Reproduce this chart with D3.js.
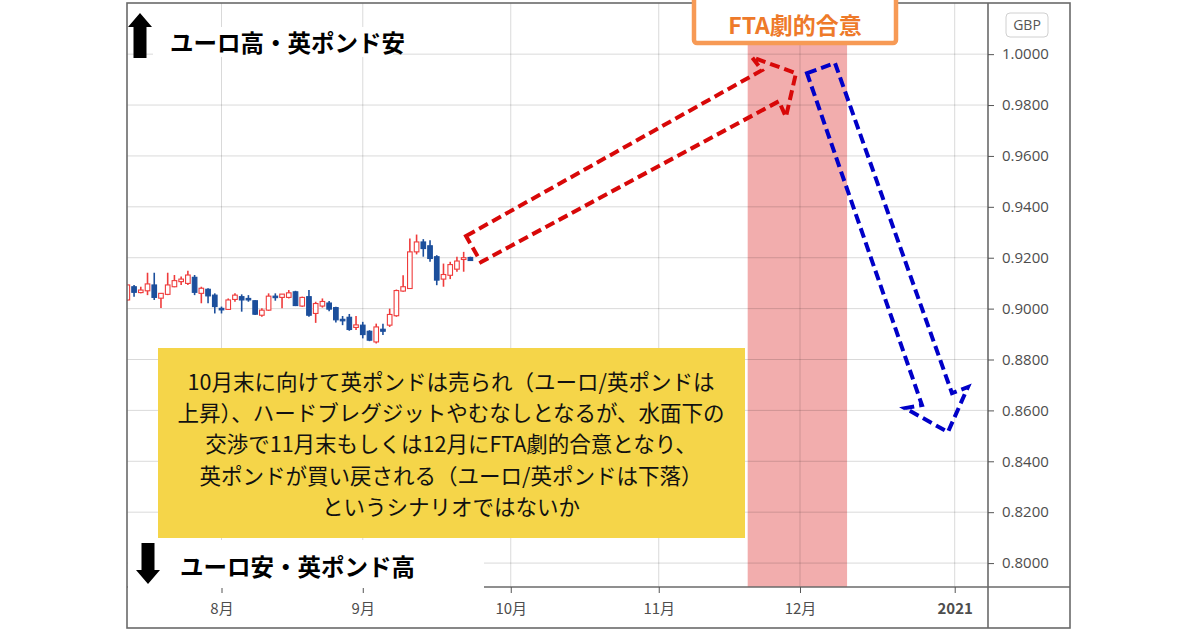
<!DOCTYPE html>
<html><head><meta charset="utf-8">
<script src="https://cdn.jsdelivr.net/npm/d3@7"></script>
<style>body{margin:0;background:#fff}svg{display:block}</style>
</head><body><svg id="c" width="1200" height="630"></svg>
<script>
// ---------- data ----------
const dates = ["2020-07-14","2020-07-15","2020-07-16","2020-07-17","2020-07-20","2020-07-21","2020-07-22","2020-07-23","2020-07-24","2020-07-27","2020-07-28","2020-07-29","2020-07-30","2020-07-31",
"2020-08-03","2020-08-04","2020-08-05","2020-08-06","2020-08-07","2020-08-10","2020-08-11","2020-08-12","2020-08-13","2020-08-14","2020-08-17","2020-08-18","2020-08-19","2020-08-20","2020-08-21","2020-08-24","2020-08-25","2020-08-26","2020-08-27","2020-08-28","2020-08-31",
"2020-09-01","2020-09-02","2020-09-03","2020-09-04","2020-09-07","2020-09-08","2020-09-09","2020-09-10","2020-09-11","2020-09-14","2020-09-15","2020-09-16","2020-09-17","2020-09-18","2020-09-21","2020-09-22","2020-09-23"];
const open  = [0.9034,0.9086,0.9063,0.9070,0.9093,0.9041,0.9056,0.9086,0.9106,0.9099,0.9123,0.9060,0.9076,0.9053,
0.9001,0.8997,0.9036,0.9047,0.9040,0.9031,0.8974,0.8994,0.9049,0.9044,0.9044,0.9066,0.9010,0.9047,0.8981,0.9010,0.9022,0.9004,0.8958,0.8966,0.8926,
0.8935,0.8911,0.8869,0.8919,0.8935,0.8972,0.9069,0.9079,0.9223,0.9262,0.9247,0.9204,0.9116,0.9131,0.9155,0.9193,0.9201];
const high  = [0.9095,0.9093,0.9086,0.9141,0.9141,0.9061,0.9141,0.9132,0.9126,0.9149,0.9132,0.9086,0.9080,0.9060,
0.9008,0.9040,0.9060,0.9056,0.9053,0.9033,0.9001,0.9060,0.9060,0.9057,0.9073,0.9070,0.9047,0.9073,0.9027,0.9040,0.9030,0.9007,0.8971,0.8979,0.8971,
0.8948,0.8915,0.8941,0.8941,0.9000,0.9075,0.9131,0.9276,0.9291,0.9273,0.9269,0.9210,0.9177,0.9184,0.9204,0.9223,0.9204];
const low   = [0.9030,0.9047,0.9060,0.9053,0.9034,0.9002,0.9053,0.9084,0.9093,0.9093,0.9053,0.9021,0.9021,0.8981,
0.8981,0.8995,0.9027,0.8988,0.9027,0.8975,0.8968,0.8991,0.9031,0.9001,0.9040,0.9010,0.9007,0.8968,0.8944,0.9004,0.8990,0.8945,0.8935,0.8913,0.8916,
0.8883,0.8872,0.8863,0.8896,0.8928,0.8968,0.9066,0.9077,0.9213,0.9204,0.9184,0.9092,0.9086,0.9116,0.9145,0.9145,0.9187];
const close = [0.9093,0.9064,0.9073,0.9097,0.9044,0.9060,0.9093,0.9110,0.9116,0.9132,0.9064,0.9080,0.9050,0.9008,
0.8995,0.9034,0.9053,0.9034,0.9036,0.8978,0.8994,0.9049,0.9047,0.9057,0.9062,0.9012,0.9044,0.8974,0.9020,0.9028,0.8998,0.8956,0.8952,0.8918,0.8936,
0.8898,0.8876,0.8928,0.8911,0.8977,0.9071,0.9086,0.9223,0.9262,0.9236,0.9197,0.9112,0.9134,0.9173,0.9187,0.9200,0.9189];

const priceTicks = [0.80,0.82,0.84,0.86,0.88,0.90,0.92,0.94,0.96,0.98,1.00];
const monthTickDates = ["2020-08-03","2020-09-01","2020-10-01","2020-11-02","2020-12-01","2021-01-01"];
const monthTickLabels = ["8月","9月","10月","11月","12月","2021"];
const bandDates = ["2020-11-19","2020-12-10"];
const bandLabel = "FTA劇的合意";
const currencyLabel = "GBP";
const topLabel = "ユーロ高・英ポンド安";
const bottomLabel = "ユーロ安・英ポンド高";
const noteLines = [
 "10月末に向けて英ポンドは売られ（ユーロ/英ポンドは",
 "上昇）、ハードブレグジットやむなしとなるが、水面下の",
 "交渉で11月末もしくは12月にFTA劇的合意となり、",
 "英ポンドが買い戻される（ユーロ/英ポンドは下落）",
 "というシナリオではないか"
];
// scenario arrows: [trading-day index from 2020-08-03, price]
const bullArrow = [[36.35,0.9285],[80.35,0.9937],[78.86,0.9988],[85.40,0.9925],[83.91,0.9753],[82.87,0.9815],[38.58,0.9183]];
const bearArrow = [[87.04,0.9925],[91.20,0.9965],[108.59,0.8668],[110.97,0.8692],[108.0,0.8515],[101.60,0.8609],[104.13,0.8621]];

// ---------- helpers ----------
const base = Date.UTC(2020,7,3);
function biz(s){
  const [yy,mm,dd]=s.split("-").map(Number);
  const t=Date.UTC(yy,mm-1,dd);
  let n=0, cur=base; const step=t>=base?1:-1;
  while(cur!==t){ cur+=step*864e5; const wd=new Date(cur).getUTCDay(); if(wd!==0&&wd!==6) n+=step; }
  return n;
}

const L=127, R=988, T=3, B=587, FR=1070, FB=628;
const x = d3.scaleLinear().domain([-14.05,113.95]).range([L,R]);
const y = d3.scaleLinear().domain([0.7906,1.0201]).range([B,T]);

const svg = d3.select("#c");
svg.append("rect").attr("width",1200).attr("height",630).attr("fill","#fff");
svg.append("defs").append("clipPath").attr("id","plot").append("rect")
  .attr("x",L).attr("y",T).attr("width",R-L).attr("height",B-T);

const RED="#ef3b3b", BLUE="#1c4f9c", GRID="rgba(0,0,0,0.15)";

// band
const b0=x(biz(bandDates[0]))+1.5, b1=x(biz(bandDates[1]));
svg.append("rect").attr("x",b0).attr("y",45).attr("width",b1-b0).attr("height",B-45)
  .attr("fill","#f2adad");

// grid
const mIdx = monthTickDates.map(biz);
svg.append("g").selectAll("line").data(priceTicks).join("line")
  .attr("x1",L).attr("x2",R).attr("y1",d=>y(d)).attr("y2",d=>y(d))
  .attr("stroke",GRID).attr("stroke-width",1);
svg.append("g").selectAll("line").data(mIdx).join("line")
  .attr("x1",d=>x(d)).attr("x2",d=>x(d)).attr("y1",T).attr("y2",B)
  .attr("stroke",GRID).attr("stroke-width",1);

// candles
const candles = dates.map((d,i)=>({i:biz(d),o:open[i],h:high[i],l:low[i],c:close[i]}));
const cg = svg.append("g").attr("clip-path","url(#plot)");
const bw = 4.6;
const g = cg.selectAll("g").data(candles).join("g");
g.append("line").attr("x1",d=>x(d.i)).attr("x2",d=>x(d.i))
  .attr("y1",d=>y(d.h)).attr("y2",d=>y(d.l))
  .attr("stroke",d=>d.c>=d.o?RED:BLUE).attr("stroke-width",1.6);
g.append("rect")
  .attr("x",d=>x(d.i)-bw/2).attr("width",bw)
  .attr("y",d=>y(Math.max(d.o,d.c)))
  .attr("height",d=>Math.max(1.5,Math.abs(y(d.o)-y(d.c))))
  .attr("fill",d=>d.c>=d.o?"#fff":BLUE)
  .attr("stroke",d=>d.c>=d.o?RED:BLUE).attr("stroke-width",1.1);

// frame and axes
const FRAME="#6a6a6a";
svg.append("rect").attr("x",L).attr("y",T).attr("width",FR-L).attr("height",FB-T)
  .attr("fill","none").attr("stroke",FRAME).attr("stroke-width",1.6);
svg.append("line").attr("x1",R).attr("x2",R).attr("y1",T).attr("y2",FB).attr("stroke",FRAME).attr("stroke-width",1.6);
svg.append("line").attr("x1",L).attr("x2",FR).attr("y1",B).attr("y2",B).attr("stroke",FRAME).attr("stroke-width",1.6);

const yAxis = svg.append("g").attr("transform",`translate(${R},0)`)
  .call(d3.axisRight(y).tickValues(priceTicks).tickFormat(d3.format(".4f")).tickSize(6).tickPadding(8));
yAxis.select(".domain").remove();
yAxis.selectAll("line").attr("stroke","#555");
yAxis.selectAll("text").attr("font-family","'Open Sans',sans-serif").attr("font-size",15).attr("fill","#4d4d4d");

const xAxis = svg.append("g").attr("transform",`translate(0,${B})`)
  .call(d3.axisBottom(x).tickValues(mIdx).tickFormat((d,i)=>monthTickLabels[i]).tickSize(6).tickPadding(10));
xAxis.select(".domain").remove();
xAxis.selectAll("line").attr("stroke","#555");
xAxis.selectAll("text").attr("font-family","'Noto Sans CJK JP','Open Sans',sans-serif").attr("font-size",15).attr("fill","#4d4d4d")
  .attr("font-weight",(d,i)=>monthTickLabels[i]==="2021"?700:400);

// GBP badge
svg.append("rect").attr("x",1006).attr("y",13).attr("width",42).attr("height",24).attr("rx",4)
  .attr("fill","#fff").attr("stroke","#d0d0d0");
svg.append("text").attr("x",1027).attr("y",30).attr("text-anchor","middle")
  .attr("font-family","'Open Sans',sans-serif").attr("font-size",14).attr("fill","#555").text(currencyLabel);

// top / bottom labels
const JP="'Noto Sans CJK JP',sans-serif";
svg.append("rect").attr("x",153).attr("y",27).attr("width",240).attr("height",30).attr("fill","#fff");
svg.append("path").attr("d","M140,13 L152,27 L146.5,27 L146.5,58 L133.5,58 L133.5,27 L128,27 Z").attr("fill","#000");
svg.append("text").attr("x",170).attr("y",42).attr("dominant-baseline","central")
  .attr("font-family",JP).attr("font-weight",700).attr("font-size",23.5).attr("fill","#000").text(topLabel);

svg.append("rect").attr("x",L+1).attr("y",540).attr("width",356).attr("height",48).attr("fill","#fff");
svg.append("path").attr("d","M148,584 L160,570 L154.5,570 L154.5,543 L141.5,543 L141.5,570 L136,570 Z").attr("fill","#000");
svg.append("text").attr("x",180).attr("y",566).attr("dominant-baseline","central")
  .attr("font-family",JP).attr("font-weight",700).attr("font-size",23.5).attr("fill","#000").text(bottomLabel);

// FTA label box
svg.append("rect").attr("x",694).attr("y",-4).attr("width",202).attr("height",47).attr("rx",3)
  .attr("fill","#fff").attr("stroke","#f79a55").attr("stroke-width",4.5);
svg.append("text").attr("x",795).attr("y",24).attr("text-anchor","middle").attr("dominant-baseline","central")
  .attr("font-family",JP).attr("font-weight",700).attr("font-size",23).attr("fill","#ee7a2a").text(bandLabel);

// note box
svg.append("rect").attr("x",158).attr("y",348).attr("width",587).attr("height",190).attr("fill","#f5d549");
svg.append("g").selectAll("text").data(noteLines).join("text")
  .attr("x",451).attr("y",(d,i)=>380+i*31.4).attr("text-anchor","middle").attr("dominant-baseline","central")
  .attr("font-family",JP).attr("font-weight",400).attr("font-size",21.5).attr("fill","#111").text(d=>d);

// scenario arrows
const line = d3.line().x(d=>x(d[0])).y(d=>y(d[1]));
svg.append("path").attr("d",line(bullArrow)+"Z").attr("fill","none").attr("stroke","#d80808")
  .attr("stroke-width",4).attr("stroke-dasharray","10,5").attr("stroke-linejoin","miter").attr("stroke-miterlimit",6);
svg.append("path").attr("d",line(bearArrow)+"Z").attr("fill","none").attr("stroke","#0000c8")
  .attr("stroke-width",4).attr("stroke-dasharray","10,5").attr("stroke-linejoin","miter").attr("stroke-miterlimit",6);
</script></body></html>
